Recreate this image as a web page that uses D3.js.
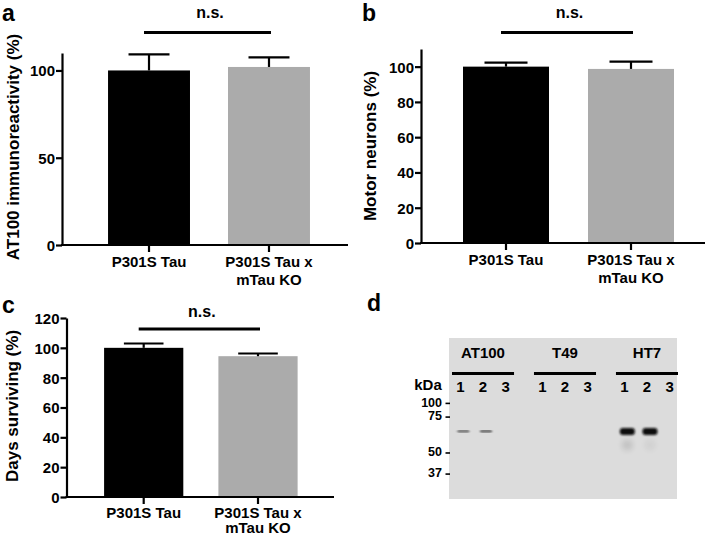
<!DOCTYPE html>
<html>
<head>
<meta charset="utf-8">
<script src="https://cdn.jsdelivr.net/npm/d3@7"></script>
<style>
  html, body { margin: 0; padding: 0; background: #fff; }
  svg { display: block; }
  text { font-family: "Liberation Sans", Arial, Helvetica, sans-serif; font-weight: bold; fill: #000; }
</style>
</head>
<body>
<svg id="chart" width="709" height="537"></svg>
<script>
// ---------- DATA ----------
const categories = ["P301S Tau", "P301S Tau x mTau KO"];
const categoryLines = [["P301S Tau"], ["P301S Tau x", "mTau KO"]];
const barColors = ["#000000", "#ababab"];

const at100Values = [100, 102];
const at100Errors = [9.2, 5.5];
const at100Ticks = [0, 50, 100];

const motorValues = [100, 98.7];
const motorErrors = [2.3, 4.1];
const motorTicks = [0, 20, 40, 60, 80, 100];

const survivalValues = [100, 94.4];
const survivalErrors = [2.9, 1.8];
const survivalTicks = [0, 20, 40, 60, 80, 100, 120];

const significance = "n.s.";

// Western blot (panel d)
const gelGroups = ["AT100", "T49", "HT7"];
const gelLanes = ["1", "2", "3"];
const markerKDa = [100, 75, 50, 37];
const markerRf = [0.40, 0.485, 0.708, 0.839];     // relative migration in gel
const bandRf = 0.58;
const bandIntensity = [[0.5, 0.55, 0], [0, 0, 0], [1, 1, 0]];
const smearRf = 0.665;
const smearIntensity = [[0, 0, 0], [0, 0, 0], [0.12, 0.05, 0]];

// ---------- DRAW ----------
const svg = d3.select("#chart");

function barPanel(o) {
  const g = svg.append("g");
  const y = d3.scaleLinear().domain(o.domain).range([o.y0, o.yTop]);
  const x = d3.scaleBand().domain(categories).range(o.xRange)
    .paddingInner(o.pad).paddingOuter(o.pad);
  const bw = x.bandwidth();

  // bars
  g.selectAll("rect.bar").data(o.values).enter().append("rect")
    .attr("x", (d, i) => x(categories[i]))
    .attr("y", d => y(d))
    .attr("width", bw)
    .attr("height", d => y(0) - y(d))
    .attr("fill", (d, i) => barColors[i]);

  // error bars
  o.values.forEach((v, i) => {
    const cx = x(categories[i]) + bw / 2;
    const top = y(v + o.errors[i]);
    g.append("line").attr("x1", cx).attr("x2", cx).attr("y1", y(v)).attr("y2", top)
      .attr("stroke", barColors[0]).attr("stroke-width", 2.2);
    g.append("line").attr("x1", cx - bw / 4).attr("x2", cx + bw / 4).attr("y1", top).attr("y2", top)
      .attr("stroke", "#000").attr("stroke-width", 2.2);
  });

  // y axis
  const ya = g.append("g").attr("transform", `translate(${o.axisX},0)`)
    .call(d3.axisLeft(y).tickValues(o.ticks).tickSize(6).tickSizeOuter(0).tickPadding(1));
  ya.select(".domain").attr("stroke", "#000").attr("stroke-width", 2.2);
  ya.selectAll(".tick line").attr("stroke", "#000").attr("stroke-width", 2.2);
  ya.selectAll(".tick text").style("font-size", "15px").style("font-weight", "bold")
    .attr("font-family", null).attr("dy", "0.36em");

  // x axis
  const xa = g.append("g").attr("transform", `translate(0,${o.y0})`)
    .call(d3.axisBottom(x).tickSize(7).tickSizeOuter(0));
  xa.select(".domain").remove();
  xa.selectAll(".tick line").attr("stroke", "#000").attr("stroke-width", 2.2);
  xa.selectAll(".tick text").remove();
  g.append("line").attr("x1", o.axisX - 1).attr("x2", o.xEnd).attr("y1", o.y0).attr("y2", o.y0)
    .attr("stroke", "#000").attr("stroke-width", 2.2);

  categories.forEach((c, i) => {
    const t = g.append("text").attr("text-anchor", "middle")
      .attr("x", x(c) + bw / 2).attr("y", o.y0 + o.tickLabelOffset).style("font-size", "15px");
    categoryLines[i].forEach((ln, j) => {
      t.append("tspan").attr("x", x(c) + bw / 2).attr("dy", j === 0 ? 0 : o.lineGap).text(ln);
    });
  });

  // y label
  g.append("text").attr("text-anchor", "middle")
    .attr("transform", `translate(${o.labelX},${o.labelY}) rotate(-90)`)
    .attr("dy", "0.35em").style("font-size", "17px").text(o.label);

  // significance
  const c1 = x(categories[0]) + bw / 2, c2 = x(categories[1]) + bw / 2;
  g.append("line").attr("x1", c1 - 5).attr("x2", c2 + 2).attr("y1", o.sigY).attr("y2", o.sigY)
    .attr("stroke", "#000").attr("stroke-width", 3);
  g.append("text").attr("text-anchor", "middle").attr("x", (c1 + c2) / 2 + 1)
    .attr("y", o.sigTextY).style("font-size", "16px").text(significance);

  // panel letter
  g.append("text").attr("x", o.letterX).attr("y", o.letterY)
    .style("font-size", "23px").text(o.letter);
}

barPanel({
  letter: "a", letterX: 2, letterY: 21,
  values: at100Values, errors: at100Errors, ticks: at100Ticks, domain: [0, 110],
  y0: 245, yTop: 53, axisX: 62, xEnd: 348, xRange: [70, 348], pad: 0.317,
  label: "AT100 immunoreactivity (%)", labelX: 13, labelY: 147,
  sigY: 32.5, sigTextY: 18, tickLabelOffset: 22, lineGap: 18
});
barPanel({
  letter: "b", letterX: 362, letterY: 21,
  values: motorValues, errors: motorErrors, ticks: motorTicks, domain: [0, 110],
  y0: 243, yTop: 49, axisX: 421, xEnd: 705, xRange: [424, 713], pad: 0.312,
  label: "Motor neurons (%)", labelX: 370, labelY: 146,
  sigY: 32.5, sigTextY: 18, tickLabelOffset: 22, lineGap: 18
});
barPanel({
  letter: "c", letterX: 2, letterY: 313,
  values: survivalValues, errors: survivalErrors, ticks: survivalTicks, domain: [0, 120],
  y0: 497, yTop: 318, axisX: 66.5, xEnd: 334, xRange: [69, 332.7], pad: 0.307,
  label: "Days surviving (%)", labelX: 12, labelY: 406,
  sigY: 329, sigTextY: 317, tickLabelOffset: 20.5, lineGap: 15.5
});

// ---------- Panel d : western blot ----------
(function () {
  const g = svg.append("g");
  const gel = { x0: 449, x1: 677, y0: 338, y1: 499 };
  const defs = svg.append("defs");
  defs.append("filter").attr("id", "blurBig").attr("x", "-50%").attr("y", "-100%")
    .attr("width", "200%").attr("height", "300%")
    .append("feGaussianBlur").attr("stdDeviation", "1.3 1.1");
  defs.append("filter").attr("id", "blurSmall").attr("x", "-50%").attr("y", "-200%")
    .attr("width", "200%").attr("height", "500%")
    .append("feGaussianBlur").attr("stdDeviation", "1 0.7");
  defs.append("filter").attr("id", "blurSmear").attr("x", "-100%").attr("y", "-200%")
    .attr("width", "300%").attr("height", "500%")
    .append("feGaussianBlur").attr("stdDeviation", "2.5 3");

  g.append("rect").attr("x", gel.x0).attr("y", gel.y0)
    .attr("width", gel.x1 - gel.x0).attr("height", gel.y1 - gel.y0).attr("fill", "#dcdcdc");

  const yRf = d3.scaleLinear().domain([0, 1]).range([gel.y0, gel.y1]);
  const gx = d3.scaleBand().domain(gelGroups).range([449, 681]).paddingInner(0.17).paddingOuter(0);
  const lx = d3.scaleBand().domain(gelLanes).range([0, gx.bandwidth()]);

  gelGroups.forEach((grp, gi) => {
    const gx0 = gx(grp), gw = gx.bandwidth();
    g.append("text").attr("text-anchor", "middle").attr("x", gx0 + gw / 2)
      .attr("y", 358).style("font-size", "15px").text(grp);
    g.append("line").attr("x1", gx0 + 3).attr("x2", gx0 + gw - 3)
      .attr("y1", 373.5).attr("y2", 373.5).attr("stroke", "#000").attr("stroke-width", 3);
    gelLanes.forEach((ln, li) => {
      const cx = gx0 + lx(ln) + lx.bandwidth() / 2;
      g.append("text").attr("text-anchor", "middle").attr("x", cx).attr("y", 392)
        .style("font-size", "15px").text(ln);
      const s = smearIntensity[gi][li];
      if (s > 0) {
        g.append("ellipse").attr("cx", cx + 3).attr("cy", yRf(smearRf))
          .attr("rx", 6).attr("ry", 5).attr("fill", "#000").attr("opacity", s)
          .attr("filter", "url(#blurSmear)");
      }
      const v = bandIntensity[gi][li];
      if (v > 0) {
        const big = v > 0.8;
        g.append("rect")
          .attr("x", cx + 3 - (big ? 7.5 : 6)).attr("y", yRf(bandRf) - (big ? 3.5 : 1.3))
          .attr("width", big ? 15 : 12).attr("height", big ? 7 : 2.6)
          .attr("rx", big ? 3 : 1.2)
          .attr("fill", big ? "#0a0a0a" : "#333").attr("opacity", big ? 1 : v)
          .attr("filter", big ? "url(#blurBig)" : "url(#blurSmall)");
      }
    });
  });

  g.append("text").attr("text-anchor", "middle").attr("x", 428).attr("y", 390)
    .style("font-size", "15px").text("kDa");
  markerKDa.forEach((k, i) => {
    const yy = yRf(markerRf[i]);
    g.append("text").attr("text-anchor", "end").attr("x", 442).attr("y", yy)
      .attr("dy", "0.34em").style("font-size", "12.5px").text(k);
    g.append("line").attr("x1", 445.5).attr("x2", 450).attr("y1", yy + 1).attr("y2", yy + 1)
      .attr("stroke", "#000").attr("stroke-width", 1.6);
  });

  g.append("text").attr("x", 367).attr("y", 311).style("font-size", "23px").text("d");
})();
</script>
</body>
</html>
